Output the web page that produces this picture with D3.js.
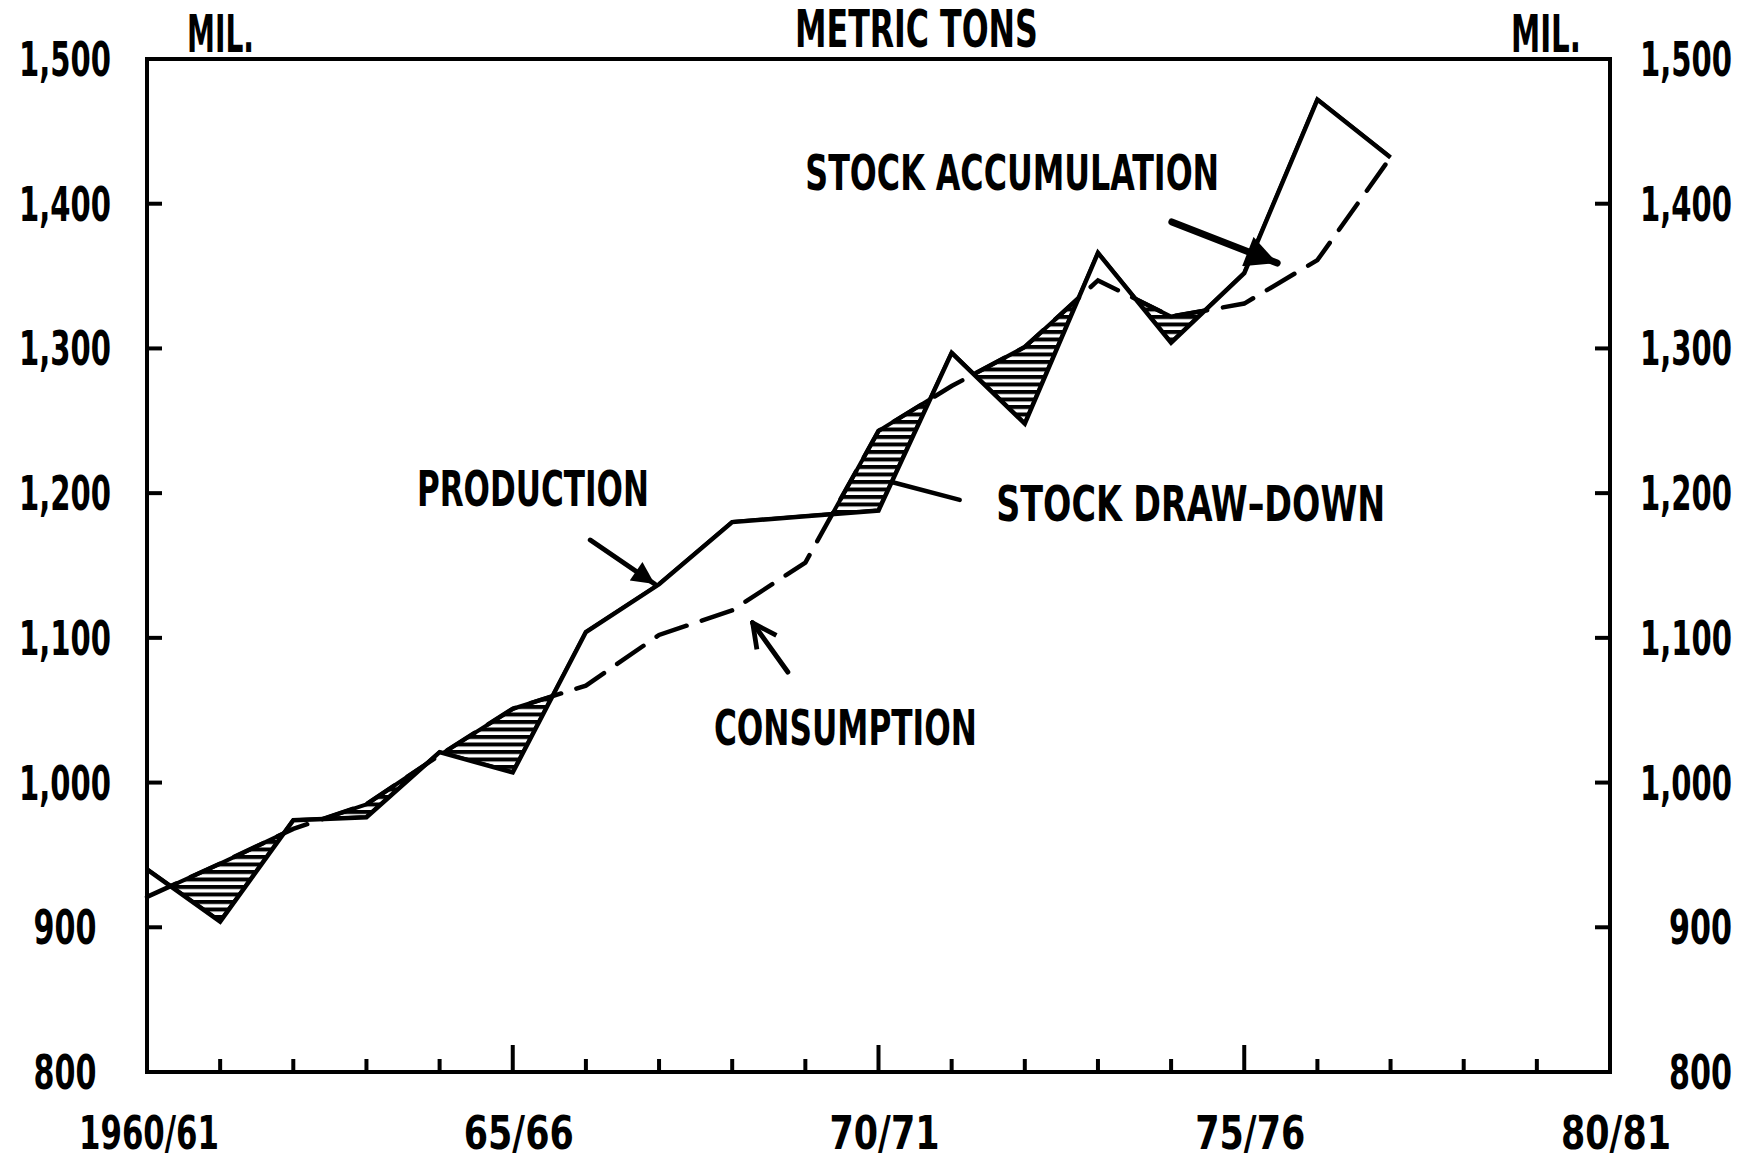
<!DOCTYPE html>
<html>
<head>
<meta charset="utf-8">
<script src="https://cdn.jsdelivr.net/npm/d3@7"></script>
<style>
  html, body { margin: 0; padding: 0; background: #fff; }
  svg { display: block; }
  text { font-family: "Liberation Sans Narrow", "DejaVu Sans Condensed", "Roboto", sans-serif; font-weight: bold; fill: #000; }
</style>
</head>
<body>
<svg id="chart" width="1749" height="1163"></svg>
<script>
// ---------- data ----------
const years = ["1960/61","1961/62","1962/63","1963/64","1964/65","1965/66","1966/67","1967/68","1968/69",
               "1969/70","1970/71","1971/72","1972/73","1973/74","1974/75","1975/76","1976/77","1977/78"];
const production  = [940, 904, 974, 976, 1021, 1007, 1104, 1137, 1180, 1184, 1188, 1297, 1248, 1366, 1304, 1352, 1472, 1432];
const consumption = [921, 944, 968, 985, 1019, 1051, 1067, 1102, 1119, 1152, 1243, 1274, 1301, 1347, 1322, 1331, 1361, 1432];
const yTicks = [800, 900, 1000, 1100, 1200, 1300, 1400, 1500];
const xMajorTicks = [0, 5, 10, 15, 20];
const xTickLabels = ["1960/61", "65/66", "70/71", "75/76", "80/81"];
const xMinorTicks = d3.range(1, 20).filter(i => i % 5 !== 0);

// annotation anchors in data space: [year index, value]
const annoLabels = [
  {text: "PRODUCTION",          i: 3.69,  v: 1191,   w: 232},
  {text: "CONSUMPTION",         i: 7.75,  v: 1026,   w: 263},
  {text: "STOCK DRAW\u2013DOWN", i: 11.61, v: 1181,   w: 389},
  {text: "STOCK ACCUMULATION",  i: 9.0,   v: 1409.5, w: 414}
];
const arrows = [
  {from: [6.06, 1167.6], to: [6.94, 1137.2], head: "filled", width: 5},
  {from: [8.76, 1076.4], to: [8.28, 1110.3], head: "open",   width: 5},
  {from: [14.01, 1387.4], to: [15.45, 1359], head: "filled", width: 7},
  {from: [11.11, 1195.3], to: [10.18, 1207.7], head: "none",  width: 4.5}
];

// ---------- layout ----------
const svg = d3.select("#chart");
const L = 147, R = 1610, T = 59, B = 1072;
const x = d3.scaleLinear().domain([0, 20]).range([L, R]);
const y = d3.scaleLinear().domain([800, 1500]).range([B, T]);

// place a text at (px,py) and squeeze it horizontally to a target width
function fitText(g, str, px, py, size, width, anchor) {
  const t = g.append("text").attr("font-size", size).attr("text-anchor", anchor || "start").text(str);
  const nat = t.node().getComputedTextLength() || width;
  const k = Math.min(width / nat, 1.3);
  t.attr("transform", `translate(${px},${py}) scale(${k},1)`);
  return t;
}

const defs = svg.append("defs");
const pat = defs.append("pattern").attr("id", "hatch")
  .attr("patternUnits", "userSpaceOnUse").attr("width", 8).attr("height", 7.5);
pat.append("rect").attr("width", 8).attr("height", 7.5).attr("fill", "#fff");
pat.append("rect").attr("y", 0).attr("width", 8).attr("height", 4).attr("fill", "#000");

defs.append("marker").attr("id", "headFilled").attr("viewBox", "0 0 10 10")
  .attr("refX", 10).attr("refY", 5).attr("markerWidth", 5).attr("markerHeight", 4.5)
  .attr("markerUnits", "strokeWidth").attr("orient", "auto")
  .append("path").attr("d", "M0,0 L10,5 L0,10 Z").attr("fill", "#000");
defs.append("marker").attr("id", "headOpen").attr("viewBox", "0 0 10 10")
  .attr("refX", 9).attr("refY", 5).attr("markerWidth", 6).attr("markerHeight", 6)
  .attr("markerUnits", "strokeWidth").attr("orient", "auto")
  .append("path").attr("d", "M1,1 L9,5 L1,9").attr("fill", "none").attr("stroke", "#000").attr("stroke-width", 1.6);

// clip: region above production line
const idx = d3.range(years.length);
defs.append("clipPath").attr("id", "aboveProd")
  .append("path")
  .attr("d", d3.area().x(i => x(i)).y0(0).y1(i => y(production[i]))(idx));

// ---------- stock draw-down hatch ----------
const between = d3.area().x(i => x(i)).y0(i => y(production[i])).y1(i => y(consumption[i]));
svg.append("path")
  .attr("d", between(idx))
  .attr("clip-path", "url(#aboveProd)")
  .attr("fill", "url(#hatch)")
  .attr("stroke", "#000").attr("stroke-width", 4).attr("stroke-linejoin", "round");

// ---------- lines ----------
const lineC = d3.line().x(i => x(i)).y(i => y(consumption[i]));
const lineP = d3.line().x(i => x(i)).y(i => y(production[i]));
svg.append("path").attr("d", lineC(idx)).attr("fill", "none").attr("stroke", "#000")
  .attr("stroke-width", 4.5).attr("stroke-dasharray", "32,16").attr("stroke-linecap", "round");
svg.append("path").attr("d", lineP(idx)).attr("fill", "none").attr("stroke", "#000")
  .attr("stroke-width", 4.5).attr("stroke-linejoin", "miter");

// ---------- frame ----------
svg.append("rect").attr("x", L).attr("y", T).attr("width", R - L).attr("height", B - T)
  .attr("fill", "none").attr("stroke", "#000").attr("stroke-width", 4);

// y ticks (inward both sides)
const inner = yTicks.filter(v => v > 800 && v < 1500);
svg.selectAll(".ytl").data(inner).join("line")
  .attr("x1", L).attr("x2", L + 15).attr("y1", d => y(d)).attr("y2", d => y(d))
  .attr("stroke", "#000").attr("stroke-width", 4);
svg.selectAll(".ytr").data(inner).join("line")
  .attr("x1", R).attr("x2", R - 15).attr("y1", d => y(d)).attr("y2", d => y(d))
  .attr("stroke", "#000").attr("stroke-width", 4);

// x ticks (upward)
svg.selectAll(".xmin").data(xMinorTicks).join("line")
  .attr("x1", d => x(d)).attr("x2", d => x(d)).attr("y1", B).attr("y2", B - 13)
  .attr("stroke", "#000").attr("stroke-width", 4);
svg.selectAll(".xmaj").data(xMajorTicks.slice(1, -1)).join("line")
  .attr("x1", d => x(d)).attr("x2", d => x(d)).attr("y1", B).attr("y2", B - 27)
  .attr("stroke", "#000").attr("stroke-width", 4);

// ---------- tick labels ----------
const fmt = d3.format(",");
const fitW = v => (v >= 1000 ? 92 : 63);
const gl = svg.append("g");
yTicks.forEach(v => {
  fitText(gl, fmt(v), 65, y(v) + 17, 48, fitW(v), "middle");
  fitText(gl, fmt(v), 1732, y(v) + 17, 48, fitW(v), "end");
});
xMajorTicks.forEach((d, k) => {
  const s = xTickLabels[k];
  fitText(gl, s, x(d) + (d === 0 ? 2 : 6), 1149, 47, s.length > 5 ? 140 : 110, "middle");
});

// ---------- headers ----------
fitText(gl, "MIL.", 187, 52, 51, 67, "start");
fitText(gl, "MIL.", 1511, 52, 51, 70, "start");
fitText(gl, "METRIC TONS", 795, 47, 51, 243, "start");

// ---------- annotations ----------
annoLabels.forEach(d => fitText(gl, d.text, x(d.i), y(d.v), 49, d.w, "start"));

svg.selectAll(".arrow").data(arrows).join("line")
  .attr("x1", d => x(d.from[0])).attr("y1", d => y(d.from[1]))
  .attr("x2", d => x(d.to[0])).attr("y2", d => y(d.to[1]))
  .attr("stroke", "#000").attr("stroke-width", d => d.width).attr("stroke-linecap", "round")
  .attr("marker-end", d => d.head === "filled" ? "url(#headFilled)" : d.head === "open" ? "url(#headOpen)" : null);
</script>
</body>
</html>
